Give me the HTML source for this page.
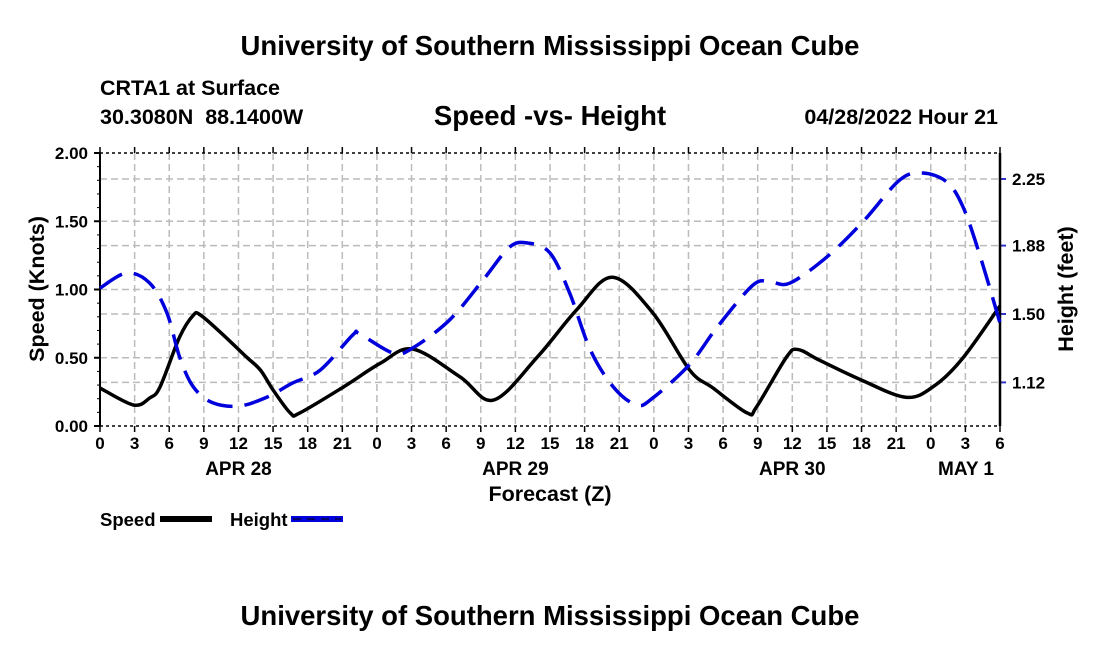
<!DOCTYPE html>
<html><head><meta charset="utf-8"><style>
body{margin:0;background:#fff;}
svg text{font-family:"Liberation Sans",Arial,sans-serif;font-weight:bold;fill:#000;}
</style></head><body>
<svg id="chart" width="1100" height="650" viewBox="0 0 1100 650" xmlns="http://www.w3.org/2000/svg">
<text x="550" y="55" font-size="27.5" text-anchor="middle">University of Southern Mississippi Ocean Cube</text>
<text x="100" y="95" font-size="21.5">CRTA1 at Surface</text>
<text x="100" y="124" font-size="21.5">30.3080N&#160;&#160;88.1400W</text>
<text x="550" y="125" font-size="27.5" text-anchor="middle">Speed -vs- Height</text>
<text x="998" y="124" font-size="21.5" text-anchor="end">04/28/2022 Hour 21</text>
<g id="grid"></g>
<g id="axes"></g>
<g id="series"></g>
<text x="550" y="501" font-size="21.5" text-anchor="middle">Forecast (Z)</text>
<text transform="translate(44,289) rotate(-90)" font-size="21.5" text-anchor="middle">Speed (Knots)</text>
<text transform="translate(1073,289) rotate(-90)" font-size="21.5" text-anchor="middle">Height (feet)</text>
<g>
<text x="100" y="526" font-size="18.5">Speed</text>
<rect x="160" y="516" width="52" height="6" fill="#000"/>
<text x="230" y="526" font-size="18.5">Height</text>
<rect x="291" y="516" width="52" height="6" fill="#0000dd"/>
<line x1="293" y1="519" x2="341" y2="519" stroke="#000" stroke-width="1" stroke-dasharray="8 6"/>
</g>
<text x="550" y="625" font-size="27.5" text-anchor="middle">University of Southern Mississippi Ocean Cube</text>
</svg>
<script>
const speedHours=[0,2.9,4.3,5.2,6.9,8.1,8.7,10.4,12.7,13.9,15,16.5,17.3,21.1,24.3,27.1,31.2,34.1,37.9,41.3,44.4,47.9,51.1,53.1,56.1,56.9,59.5,60.5,62.4,65.9,69.9,72.4,74.8,78];
const speedValues=[0.278,0.154,0.205,0.286,0.652,0.813,0.813,0.689,0.505,0.41,0.264,0.095,0.095,0.286,0.46,0.564,0.36,0.19,0.505,0.85,1.09,0.83,0.41,0.28,0.095,0.14,0.505,0.56,0.48,0.34,0.21,0.30,0.5,0.88];
const heightHours=[0,2.3,4.3,5.8,6.9,8.1,9.8,12.1,14.5,16.7,19.1,21.9,22.5,25.4,27.1,30.3,33.2,35.5,37.1,39,40.7,42.5,44.5,46.5,47.9,51.1,53.5,56.6,58.1,59.8,63,66.1,69.3,71.3,73.4,74.8,76.3,78];
const heightValues=[1.644,1.728,1.672,1.506,1.261,1.094,1.006,0.989,1.039,1.117,1.189,1.383,1.389,1.283,1.311,1.467,1.689,1.872,1.894,1.839,1.617,1.3,1.094,0.994,1.033,1.22,1.428,1.661,1.678,1.672,1.817,2.011,2.244,2.283,2.233,2.094,1.817,1.45];
const hourTickLabels=["0","3","6","9","12","15","18","21"];
const dayLabels=[{h:12,t:"APR 28"},{h:36,t:"APR 29"},{h:60,t:"APR 30"},{h:78,t:"MAY 1"}];
const speedTicks=["0.00","0.50","1.00","1.50","2.00"];
const heightTicks=["1.12","1.50","1.88","2.25"];

const NS="http://www.w3.org/2000/svg";
const X0=100,X1=1000,Y0=426,Y1=153,HMAX=78;
const xs=h=>X0+(X1-X0)*h/HMAX;
const ySp=s=>Y0-s*(Y0-Y1)/2;
const yHt=v=>179+(2.25-v)*180;
function el(tag,attrs,parent){const e=document.createElementNS(NS,tag);for(const k in attrs)e.setAttribute(k,attrs[k]);parent.appendChild(e);return e;}
const grid=document.getElementById('grid'),axes=document.getElementById('axes'),series=document.getElementById('series');

for(let h=3;h<HMAX;h+=3){
 const g=el('line',{x1:xs(h),x2:xs(h),y1:Y1,y2:Y0,stroke:'#bbb','stroke-width':1.5,'stroke-dasharray':'7 4'},grid);
 
 
}
speedTicks.forEach(t=>{const y=ySp(parseFloat(t));
 if(y>Y1+1&&y<Y0-1){const g=el('line',{x1:X0,x2:X1,y1:y,y2:y,stroke:'#bbb','stroke-width':1.5,'stroke-dasharray':'7 4'},grid);
 
 }
 const l=el('line',{x1:X0-6,x2:X0,y1:y,y2:y,stroke:'#000','stroke-width':2},axes);
 
 
 const tx=el('text',{x:X0-12,y:y+6,'font-size':17,'text-anchor':'end'},axes);tx.textContent=t;
 
 
});
for(let s=0.1;s<2;s+=0.1){const y=ySp(s);el('line',{x1:X0-3,x2:X0,y1:y,y2:y,stroke:'#000','stroke-width':1},axes);}
heightTicks.forEach(t=>{const y=yHt(parseFloat(t));
 const g=el('line',{x1:X0,x2:X1,y1:y,y2:y,stroke:'#bbb','stroke-width':1.5,'stroke-dasharray':'7 4'},grid);
 
 
 const l=el('line',{x1:X1,x2:X1+6,y1:y,y2:y,stroke:'#3333cc','stroke-width':2},axes);
 
 
 const tx=el('text',{x:X1+12,y:y+6,'font-size':17},axes);tx.textContent=t;
 
 
});
el('line',{x1:X0,x2:X0,y1:Y1,y2:Y0,stroke:'#000','stroke-width':2},axes);
el('line',{x1:X1,x2:X1,y1:Y1,y2:Y0,stroke:'#000','stroke-width':2.5},axes);
el('line',{x1:X0,x2:X1,y1:Y1,y2:Y1,stroke:'#000','stroke-width':1.5,'stroke-dasharray':'3 3'},axes);
el('line',{x1:X0,x2:X1,y1:Y0,y2:Y0,stroke:'#000','stroke-width':1.5,'stroke-dasharray':'3 3'},axes);
for(let h=0;h<=HMAX;h+=3){
 el('line',{x1:xs(h),x2:xs(h),y1:Y0,y2:Y0+6,stroke:'#000','stroke-width':1.5},axes);
 el('line',{x1:xs(h),x2:xs(h),y1:Y1-6,y2:Y1,stroke:'#000','stroke-width':1.5},axes);
 const tx=el('text',{x:xs(h),y:449,'font-size':17,'text-anchor':'middle'},axes);
 tx.textContent=hourTickLabels[(h%24)/3];
 
 
}
dayLabels.forEach(d=>{const tx=el('text',{x:xs(d.h),y:475,'font-size':19,'text-anchor':d.h==78?'end':'middle'},axes);tx.textContent=d.t;
 if(d.h==78)tx.setAttribute('x',X1-6);
 
 });

function smooth(pts){let d=`M${pts[0][0]},${pts[0][1]}`;
 for(let i=0;i<pts.length-1;i++){const p0=pts[i-1]||pts[i],p1=pts[i],p2=pts[i+1],p3=pts[i+2]||p2;
  d+=` C${p1[0]+(p2[0]-p0[0])/6},${p1[1]+(p2[1]-p0[1])/6} ${p2[0]-(p3[0]-p1[0])/6},${p2[1]-(p3[1]-p1[1])/6} ${p2[0]},${p2[1]}`;}
 return d;}
const sp=el('path',{d:smooth(speedHours.map((h,i)=>[xs(h),ySp(speedValues[i])])),fill:'none',stroke:'#000','stroke-width':3.5},series);


const ht=el('path',{d:smooth(heightHours.map((h,i)=>[xs(h),yHt(heightValues[i])])),fill:'none',stroke:'#0000dd','stroke-width':3.5,'stroke-dasharray':'26 12'},series);


</script>
</body></html>
